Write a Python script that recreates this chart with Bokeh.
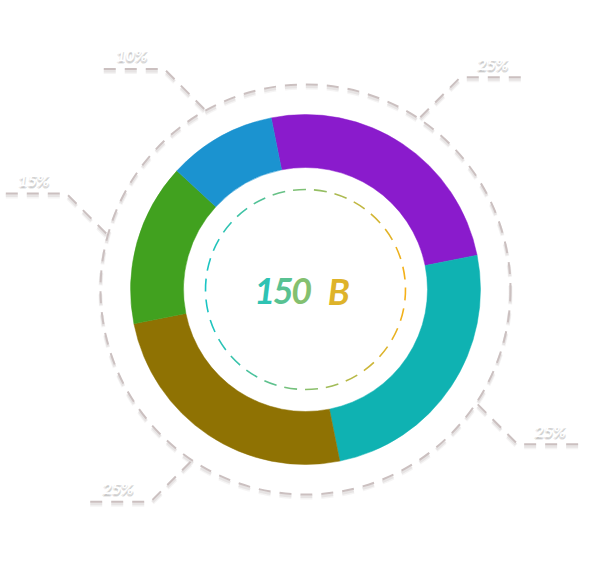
import numpy as np
from bokeh.plotting import figure
from bokeh.models import Range1d
from bokeh.core.properties import value
from bokeh.embed import file_html
from bokeh.resources import INLINE

# ---- data ----
slice_values = [25, 25, 25, 15, 10]
slice_labels = ["25%", "25%", "25%", "15%", "10%"]
slice_colors = ["#8a1bcc", "#0fb2b2", "#8f7203", "#41a11f", "#1b93d0"]
center_label = "150 B"

# ---- layout / style ----
W, H = 595, 579
cx, cy = 305, 290
r_in, r_out = 122, 175
r_ring = 205
r_inner_dash = 100
start_deg = 101.3
grey = "#cbc0c0"
font = "Lato"

p = figure(width=W, height=H, x_range=Range1d(0, W), y_range=Range1d(0, H),
           output_backend="svg", toolbar_location=None, min_border=0,
           x_axis_type=None, y_axis_type=None)
p.grid.visible = False
p.outline_line_color = None
p.background_fill_color = "white"
p.border_fill_color = "white"

vals = np.array(slice_values, dtype=float)
frac = vals / vals.sum()
cum = np.concatenate([[0], np.cumsum(frac)])
starts = np.radians(start_deg - 360 * cum[:-1])
ends = np.radians(start_deg - 360 * cum[1:])
mids = (starts + ends) / 2

# donut
p.annular_wedge(x=cx, y=cy, inner_radius=r_in, outer_radius=r_out,
                start_angle=starts, end_angle=ends, direction="clock",
                fill_color=slice_colors, line_color=slice_colors, line_width=0.5)

# outer dashed ring with soft shadow
for dy, a, w in [(-3, 0.10, 4), (-2, 0.15, 3)]:
    p.circle(x=cx, y=cy + dy, radius=r_ring, fill_color=None, line_color="#9a9090",
             line_alpha=a, line_width=w, line_dash="12 9")
p.circle(x=cx, y=cy, radius=r_ring, fill_color=None, line_color=grey,
         line_width=2, line_dash="12 9")

# inner gradient dashed circle
def grad(t):
    stops = [(0.0, (25, 196, 196)), (0.5, (132, 192, 112)), (1.0, (245, 176, 24))]
    t = min(max(t, 0), 1)
    for (t0, c0), (t1, c1) in zip(stops[:-1], stops[1:]):
        if t <= t1:
            u = (t - t0) / (t1 - t0)
            c = [int(round(c0[k] + (c1[k] - c0[k]) * u)) for k in range(3)]
            return "#%02x%02x%02x" % tuple(c)
    return "#%02x%02x%02x" % stops[-1][1]

n_dash = 30
period = 2 * np.pi / n_dash
d_start = np.arange(n_dash) * period + 0.1
d_end = d_start + period * 0.62
d_mid = (d_start + d_end) / 2
d_cols = [grad((np.cos(a) + 1) / 2) for a in d_mid]
p.arc(x=cx, y=cy, radius=r_inner_dash, start_angle=d_start, end_angle=d_end,
      line_color=d_cols, line_width=1.6)

# center text, per-character gradient
char_w = 18.5
x0 = cx - 50
text_left, text_right = x0, x0 + char_w * len(center_label)
cxs, cts, ccols = [], [], []
for i, ch in enumerate(center_label):
    xc = x0 + i * char_w + char_w / 2
    cxs.append(xc)
    cts.append(ch)
    ccols.append(grad((xc - text_left) / (text_right - text_left)))
p.text(x=cxs, y=[cy - 1] * len(cxs), text=cts, text_color=ccols,
       text_font=value(font), text_font_style="bold italic", text_font_size="36px",
       text_align="center", text_baseline="middle")

# leader lines and labels
r_a, diag, seg = 207, 40, 65
xs, ys, tx, ty = [], [], [], []
for m in mids:
    ax, ay = cx + r_a * np.cos(m), cy + r_a * np.sin(m)
    sx = 1 if np.cos(m) >= 0 else -1
    sy = 1 if np.sin(m) >= 0 else -1
    bx, by = ax + sx * diag, ay + sy * diag
    ex = bx + sx * seg
    xs.append([ax, bx, ex])
    ys.append([ay, by, by])
    tx.append((bx + ex) / 2)
    ty.append(by + 14)

for dy, a, w in [(-3, 0.10, 4), (-2, 0.15, 3)]:
    p.multi_line(xs=xs, ys=[[v + dy for v in yy] for yy in ys], line_color="#9a9090",
                 line_alpha=a, line_width=w, line_dash="12 9")
p.multi_line(xs=xs, ys=ys, line_color=grey, line_width=2, line_dash="12 9")

for dx, dy, a in [(0, -3, 0.18), (1, -2, 0.25), (-1, -2, 0.18)]:
    p.text(x=[v + dx for v in tx], y=[v + dy for v in ty], text=slice_labels,
           text_color="#888888", text_alpha=a, text_font=value(font),
           text_font_style="bold italic", text_font_size="16px",
           text_align="center", text_baseline="middle")
p.text(x=tx, y=ty, text=slice_labels, text_color="white", text_font=value(font),
       text_font_style="bold italic", text_font_size="16px",
       text_align="center", text_baseline="middle")

open("out.html", "w").write(file_html(p, INLINE))
